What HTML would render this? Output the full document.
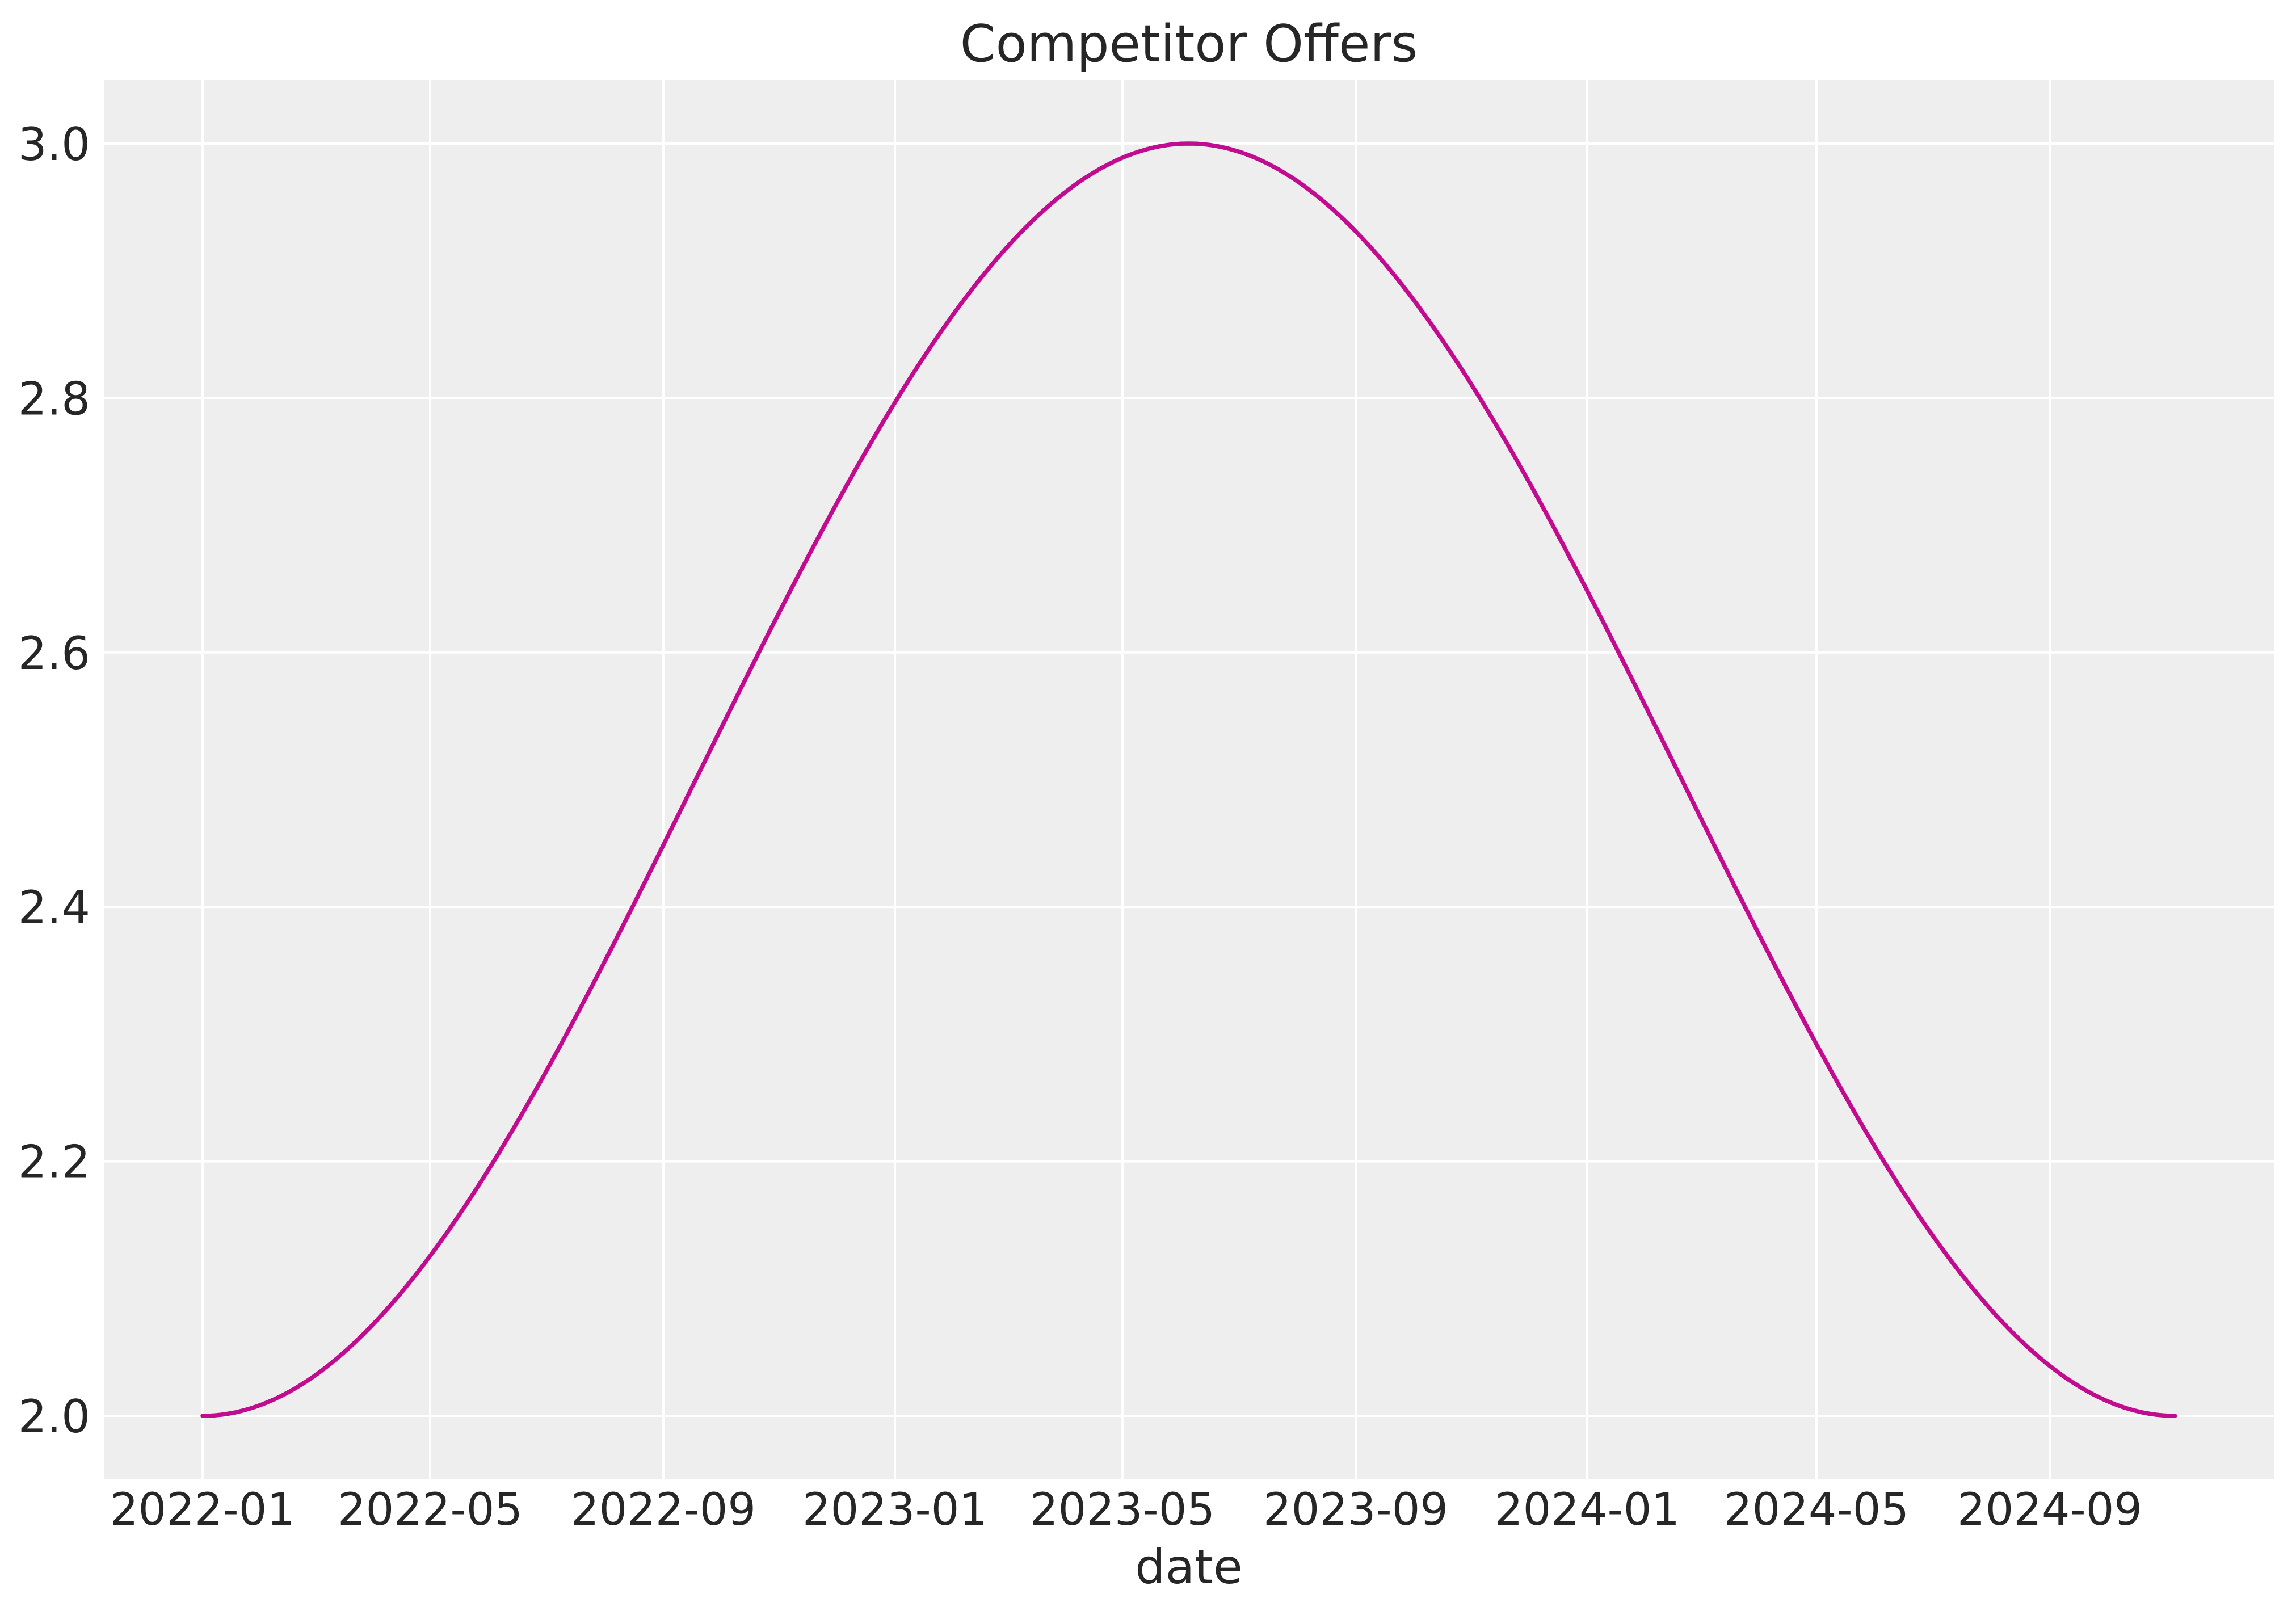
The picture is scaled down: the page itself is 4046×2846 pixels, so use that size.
<!DOCTYPE html>
<html><head><meta charset="utf-8"><style>
html,body{margin:0;padding:0;background:#fff}
svg{display:block}
text{font-family:"DejaVu Sans","Liberation Sans",sans-serif;fill:#262626}
</style></head><body>
<svg id="s" width="4046" height="2846" viewBox="0 0 4046 2846" xmlns="http://www.w3.org/2000/svg">
<rect x="183" y="141" width="3824" height="2466" fill="#eeeeee"/>
<g stroke="#ffffff" stroke-width="4">
<line x1="183" x2="4007" y1="2495" y2="2495"/>
<line x1="183" x2="4007" y1="2046.6" y2="2046.6"/>
<line x1="183" x2="4007" y1="1598.2" y2="1598.2"/>
<line x1="183" x2="4007" y1="1149.8" y2="1149.8"/>
<line x1="183" x2="4007" y1="701.4" y2="701.4"/>
<line x1="183" x2="4007" y1="253" y2="253"/>
<line y1="141" y2="2607" x1="357" x2="357"/>
<line y1="141" y2="2607" x1="758" x2="758"/>
<line y1="141" y2="2607" x1="1169" x2="1169"/>
<line y1="141" y2="2607" x1="1577" x2="1577"/>
<line y1="141" y2="2607" x1="1978" x2="1978"/>
<line y1="141" y2="2607" x1="2389" x2="2389"/>
<line y1="141" y2="2607" x1="2797" x2="2797"/>
<line y1="141" y2="2607" x1="3201" x2="3201"/>
<line y1="141" y2="2607" x1="3612" x2="3612"/>
</g>
<path id="curve" fill="none" stroke="#c10c90" stroke-width="7.5" stroke-linecap="round" stroke-linejoin="round" d=""/>
<g font-size="80" text-anchor="end">
<text x="159" y="2524">2.0</text>
<text x="159" y="2075.6">2.2</text>
<text x="159" y="1627.2">2.4</text>
<text x="159" y="1178.8">2.6</text>
<text x="159" y="730.4">2.8</text>
<text x="159" y="282">3.0</text>
</g>
<g font-size="78" text-anchor="middle">
<text x="357" y="2687">2022-01</text>
<text x="758" y="2687">2022-05</text>
<text x="1169" y="2687">2022-09</text>
<text x="1577" y="2687">2023-01</text>
<text x="1978" y="2687">2023-05</text>
<text x="2389" y="2687">2023-09</text>
<text x="2797" y="2687">2024-01</text>
<text x="3201" y="2687">2024-05</text>
<text x="3612" y="2687">2024-09</text>
</g>
<text x="2095" y="2790" font-size="84" text-anchor="middle">date</text>
<text x="2095" y="108" font-size="90" text-anchor="middle">Competitor Offers</text>
</svg>
<script>
var d="";
for(var i=0;i<=520;i++){var t=i*2;var x=357+3.342*t;var v=2.5-0.5*Math.cos(2*Math.PI*t/1040);var y=2495-(v-2)*2242;d+=(i?"L":"M")+x.toFixed(1)+" "+y.toFixed(1);}
document.getElementById("curve").setAttribute("d",d);
</script>
</body></html>
